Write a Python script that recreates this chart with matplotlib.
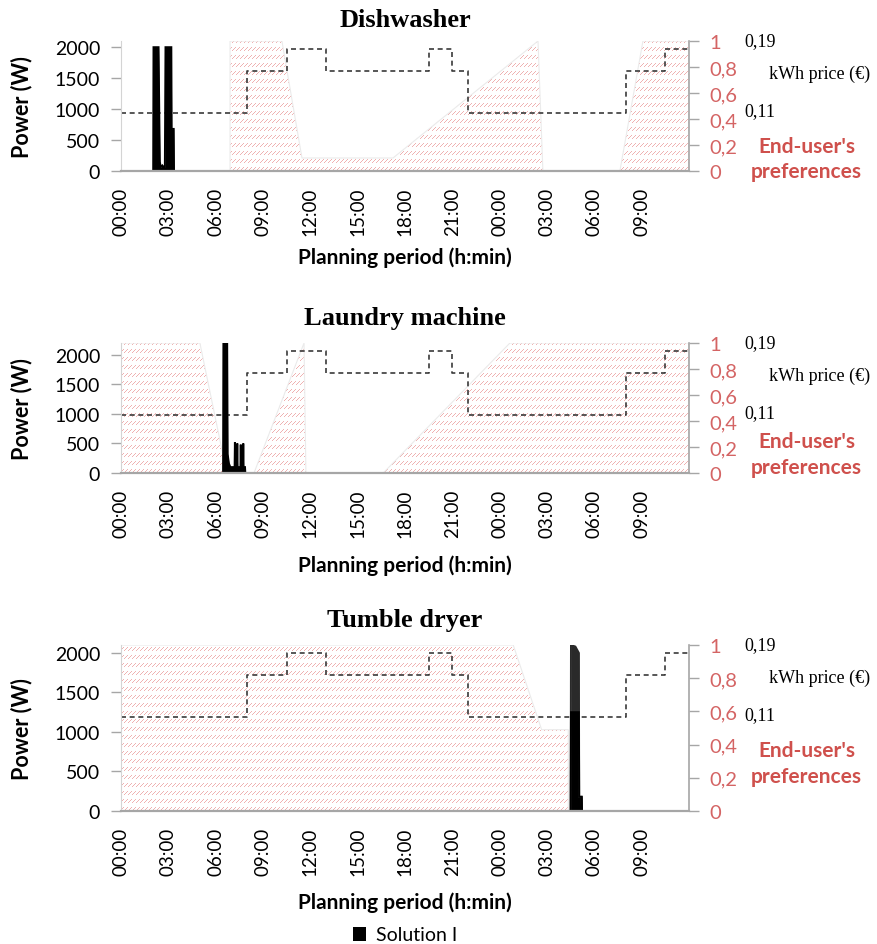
import matplotlib
matplotlib.use("Agg")
import matplotlib.pyplot as plt
from matplotlib.patches import Polygon, Patch
import numpy as np

###############################################################################
# Data

# time axis, hours from the start of the planning period
tick_hours = [0, 3, 6, 9, 12, 15, 18, 21, 24, 27, 30, 33]
tick_labels = ["00:00", "03:00", "06:00", "09:00", "12:00", "15:00",
               "18:00", "21:00", "00:00", "03:00", "06:00", "09:00"]
t_end = 36

# kWh price (EUR), step changes
price_t = [0, 8, 10.5, 13, 19.5, 21, 22, 32, 34.5, 36]
price_v = [0.11, 0.163, 0.19, 0.163, 0.19, 0.163, 0.11, 0.163, 0.19, 0.19]

# Dishwasher: end-user preference (0-1) and scheduled power (W)
dw_pref_t = [0, 6.91, 6.91, 10.2, 11.47, 17.24, 26.43, 26.74, 31.62, 33.08, 36]
dw_pref_v = [0, 0, 1, 1, 0.1, 0.1, 1, 0, 0, 1, 1]
dw_t = [2.04, 2.06, 2.38, 2.46, 2.52, 2.62, 2.72, 2.78, 2.82, 3.19, 3.21, 3.34, 3.36]
dw_p = [0, 2000, 2000, 150, 60, 90, 60, 60, 2000, 2000, 680, 680, 0]

# Laundry machine
lm_pref_t = [0, 5.0, 6.70, 8.43, 11.6, 11.72, 16.62, 24.65, 36]
lm_pref_v = [1, 1, 0, 0, 1, 0, 0, 1, 1]
lm_t = [6.47, 6.49, 6.73, 6.76, 6.84, 6.93, 7.20, 7.22, 7.24, 7.35, 7.37, 7.39,
        7.57, 7.59, 7.61, 7.73, 7.75, 7.77, 7.86, 7.88]
lm_p = [0, 2200, 2200, 320, 160, 100, 100, 520, 100, 100, 500, 100,
        100, 480, 100, 100, 500, 100, 100, 0]

# Tumble dryer (upper envelope of the fast cycling + solid base)
td_pref_t = [0, 24.86, 26.66, 28.35, 28.35, 36]
td_pref_v = [1, 1, 0.49, 0.49, 0, 0]
td_t = [28.50, 28.52, 28.80, 29.02, 29.04, 29.20, 29.22]
td_hi = [0, 2100, 2080, 2000, 180, 180, 0]
td_lo = [0, 1250, 1250, 1250, 180, 180, 0]

###############################################################################
# Style

plt.rcParams["font.family"] = ["Lato", "DejaVu Sans"]
RED = "#cf504c"
RED_TICK = "#d46464"
GREY = "#a6a6a6"
PINK = (0.94, 0.70, 0.70, 1.0)
FIG_W, FIG_H = 878, 945

fig = plt.figure(figsize=(FIG_W / 100, FIG_H / 100), dpi=100)


def px_rect(left, top, right, bottom):
    return [left / FIG_W, 1 - bottom / FIG_H, (right - left) / FIG_W, (bottom - top) / FIG_H]


def hatch_texture(w, h):
    # rows of short upward-diagonal dashes
    r, c = np.mgrid[0:h, 0:w]
    on = ((c + r) % 4 == 0) & ((h - 1 - r) % 8 < 4)
    img = np.zeros((h, w, 4))
    img[on] = PINK
    return img


def draw_panel(rect, title, title_pad, pref_t, pref_v, layers, p_max,
               price_lim, xlabel_y, pref_text_y):
    ax_pref = fig.add_axes(rect)
    ax_price = fig.add_axes(rect)
    ax = fig.add_axes(rect)

    # preferences: hatched area, right axis
    verts = np.column_stack([[pref_t[0]] + pref_t + [pref_t[-1]],
                             [0] + pref_v + [0]])
    poly = Polygon(verts, closed=True, facecolor="none", edgecolor="#ebebeb", lw=0.8)
    ax_pref.add_patch(poly)
    w_px = int(round(rect[2] * FIG_W))
    h_px = int(round(rect[3] * FIG_H))
    im = ax_pref.imshow(hatch_texture(w_px, h_px), extent=(0, t_end, 0, 1),
                        aspect="auto", interpolation="nearest", origin="upper")
    im.set_clip_path(poly)
    ax_pref.set_xlim(0, t_end)
    ax_pref.set_ylim(0, 1)
    ax_pref.yaxis.tick_right()
    ax_pref.set_yticks([0, 0.2, 0.4, 0.6, 0.8, 1])
    ax_pref.set_yticklabels(["0", "0,2", "0,4", "0,6", "0,8", "1"])
    ax_pref.tick_params(axis="y", colors=GREY, labelcolor=RED_TICK, labelsize=14.5,
                        length=7, width=1, pad=8)
    ax_pref.set_xticks([])
    for side in ["top", "left", "bottom"]:
        ax_pref.spines[side].set_visible(False)
    ax_pref.spines["right"].set_color(GREY)
    ax_pref.spines["right"].set_linewidth(1.2)

    # kWh price, hidden axis
    ax_price.patch.set_visible(False)
    ax_price.step(price_t, price_v, where="post", color="#3a3a3a", lw=1.2,
                  linestyle=(0, (3, 2.2)))
    ax_price.set_xlim(0, t_end)
    ax_price.set_ylim(*price_lim)
    ax_price.axis("off")
    ax_price.annotate("0,19", xy=(1.097, 0.19), xycoords=("axes fraction", "data"),
                      xytext=(0, 6), textcoords="offset points", va="center",
                      family="Liberation Serif", fontsize=13)
    ax_price.annotate("0,11", xy=(1.097, 0.11), xycoords=("axes fraction", "data"),
                      xytext=(0, 2), textcoords="offset points", va="center",
                      family="Liberation Serif", fontsize=13)
    ax_price.annotate("kWh price (\u20ac)", xy=(1.141, 0.16),
                      xycoords=("axes fraction", "data"), va="center",
                      family="Liberation Serif", fontsize=13)
    ax_pref.text(1.207, pref_text_y[0], "End-user's", transform=ax_pref.transAxes,
                 color=RED, fontsize=15, fontweight="bold", ha="center", va="center")
    ax_pref.text(1.207, pref_text_y[1], "preferences", transform=ax_pref.transAxes,
                 color=RED, fontsize=15, fontweight="bold", ha="center", va="center")

    # scheduled power, left axis
    ax.patch.set_visible(False)
    for t, p, col in layers:
        ax.fill_between(t, p, color=col, lw=0)
        ax.plot(t, p, color=col, lw=1.4, solid_joinstyle="miter")
    ax.set_xlim(0, t_end)
    ax.set_ylim(0, p_max)
    ax.set_yticks([0, 500, 1000, 1500, 2000])
    ax.tick_params(axis="y", colors=GREY, labelcolor="black", labelsize=14,
                   length=7, width=1, pad=8)
    ax.set_xticks(tick_hours)
    ax.set_xticklabels(tick_labels, rotation=90)
    ax.tick_params(axis="x", length=0, labelsize=13.5, pad=11)
    ax.spines["top"].set_visible(False)
    ax.spines["right"].set_visible(False)
    ax.spines["left"].set_color("#d4d4d4")
    ax.spines["bottom"].set_color(GREY)
    ax.spines["bottom"].set_linewidth(1.6)

    ax.set_ylabel("Power (W)", fontsize=15.5, fontweight="bold")
    ax.yaxis.set_label_coords(-89 / rect[2] / FIG_W, 0.5)
    ax.set_xlabel("Planning period (h:min)", fontsize=15, fontweight="bold")
    ax.xaxis.set_label_coords(0.5, xlabel_y)
    ax.set_title(title, family="Liberation Serif", fontweight="bold",
                 fontsize=19, pad=title_pad)
    return ax


draw_panel(px_rect(121, 42, 689, 172), "Dishwasher", 11,
           dw_pref_t, dw_pref_v, [(dw_t, dw_p, "black")], 2100,
           (0.0375, 0.2), -75 / 130, (0.195, 0.0))
draw_panel(px_rect(121, 344, 689, 474), "Laundry machine", 14,
           lm_pref_t, lm_pref_v, [(lm_t, lm_p, "black")], 2200,
           (0.0375, 0.2), -81 / 130, (0.248, 0.044))
draw_panel(px_rect(121, 646, 689, 812), "Tumble dryer", 14,
           td_pref_t, td_pref_v, [(td_t, td_hi, "#2a2a2a"), (td_t, td_lo, "black")], 2100,
           (-0.0069, 0.2), -80 / 166, (0.369, 0.209))

fig.legend(handles=[Patch(facecolor="black")], labels=["Solution I"],
           loc="center", bbox_to_anchor=(405 / FIG_W, 1 - 936 / FIG_H),
           frameon=False, fontsize=14, handlelength=0.7, handleheight=0.7,
           handletextpad=0.5)

fig.savefig("out.png", dpi=100)
